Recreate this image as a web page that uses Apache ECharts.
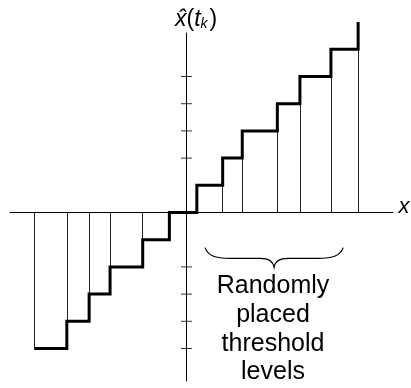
<!DOCTYPE html>
<html>
<head>
<meta charset="utf-8">
<script src="https://cdn.jsdelivr.net/npm/echarts@6/dist/echarts.min.js"></script>
<style>
  html, body { margin: 0; padding: 0; background: #fff; }
  #chart { width: 411px; height: 388px; }
</style>
</head>
<body>
<div id="chart"></div>
<script>
// Quantizer input thresholds t_k (x positions where the output steps)
const thresholds = [-5.60, -4.40, -3.58, -2.81, -1.61, -0.63, 0.38, 1.33, 2.05, 3.34, 4.17, 5.31, 6.31];
// Reconstruction level held between thresholds[i] and thresholds[i + 1]
const levels = [-5, -4, -3, -2, -1, 0, 1, 2, 3, 4, 5, 6];
// Level reached after the last threshold
const lastLevel = 7;
// Tick marks on the vertical axis
const tickLevels = [-5, -4, -3, -2, 2, 3, 4, 5];
// Annotation text
const noteLines = ['Randomly', 'placed', 'threshold', 'levels'];
// Horizontal extent of the brace (data units)
const braceFrom = 0.68;
const braceTo = 5.76;

const X_MIN = -6.489, X_MAX = 7.592;
const Y_MIN = -6.195, Y_MAX = 6.60;

// Thick staircase path
const stairs = [];
for (let i = 0; i < levels.length; i++) {
  stairs.push([thresholds[i], levels[i]]);
  stairs.push([thresholds[i + 1], levels[i]]);
}
stairs.push([thresholds[thresholds.length - 1], lastLevel]);

// Thin verticals from the x axis up/down to the level nearest zero
const risers = [];
thresholds.forEach((t, j) => {
  const left = j > 0 ? levels[j - 1] : null;
  const right = j < levels.length ? levels[j] : lastLevel;
  let inner;
  if (left === null) inner = right;
  else inner = Math.abs(left) < Math.abs(right) ? left : right;
  if (inner !== 0) risers.push({ coords: [[t, 0], [t, inner]] });
});

const chart = echarts.init(document.getElementById('chart'), null, { renderer: 'canvas' });

chart.setOption({
  animation: false,
  backgroundColor: '#fff',
  grid: { left: 10, right: 18, top: 33, bottom: 7 },
  xAxis: {
    type: 'value', min: X_MIN, max: X_MAX,
    axisLine: { onZero: true, lineStyle: { color: '#000', width: 1 } },
    axisTick: { show: false }, axisLabel: { show: false }, splitLine: { show: false }
  },
  yAxis: {
    type: 'value', min: Y_MIN, max: Y_MAX,
    axisLine: { onZero: true, lineStyle: { color: '#000', width: 1 } },
    axisTick: { show: false }, axisLabel: { show: false }, splitLine: { show: false }
  },
  series: [
    {
      type: 'lines',
      coordinateSystem: 'cartesian2d',
      polyline: false,
      silent: true,
      lineStyle: { color: '#222', width: 1, opacity: 1 },
      data: risers,
      z: 2
    },
    {
      type: 'scatter',
      silent: true,
      symbol: 'rect',
      symbolSize: [11, 1],
      itemStyle: { color: '#000' },
      data: tickLevels.map(v => [0, v]),
      z: 3
    },
    {
      type: 'line',
      data: stairs,
      symbol: 'none',
      clip: false,
      silent: true,
      lineStyle: { color: '#000', width: 3, join: 'miter', cap: 'butt' },
      z: 4
    },
    {
      type: 'custom',
      silent: true,
      clip: false,
      data: [[braceFrom, braceTo, -1.29, -2.01]],
      renderItem: function (params, api) {
        const a = api.coord([api.value(0), api.value(2)]);
        const b = api.coord([api.value(1), api.value(2)]);
        const tip = api.coord([(api.value(0) + api.value(1)) / 2, api.value(3)]);
        const x0 = a[0], y0 = a[1], x1 = b[0], xc = tip[0], yt = tip[1];
        const ym = y0 + 0.55 * (yt - y0);
        const d = [
          'M', x0, y0,
          'C', x0 + 3, y0 + 8, x0 + 10, ym, x0 + 25, ym,
          'L', xc - 14, ym,
          'C', xc - 5, ym, xc - 1, ym + 3, xc, yt,
          'C', xc + 1, ym + 3, xc + 5, ym, xc + 14, ym,
          'L', x1 - 25, ym,
          'C', x1 - 10, ym, x1 - 3, y0 + 8, x1, y0
        ].join(' ');
        return {
          type: 'path',
          shape: { pathData: d },
          style: { fill: null, stroke: '#000', lineWidth: 1.2 }
        };
      },
      z: 5
    }
  ],
  graphic: [
    {
      type: 'text',
      x: 175, y: 8,
      style: {
        text: '{v|x̂}{n|(}{v|t}{s|k}{n|)}',
        rich: {
          v: { font: 'italic 23px "Liberation Sans", Arial, sans-serif', fill: '#000' },
          n: { font: '23px "Liberation Sans", Arial, sans-serif', fill: '#000' },
          s: { font: 'italic 14px "Liberation Sans", Arial, sans-serif', fill: '#000', verticalAlign: 'bottom', padding: [9, 2, 0, 0] }
        }
      }
    },
    {
      type: 'text',
      x: 404, y: 207,
      style: {
        text: 'x',
        font: 'italic 22px "Liberation Sans", Arial, sans-serif',
        fill: '#000',
        textAlign: 'center',
        textVerticalAlign: 'middle'
      }
    },
    {
      type: 'text',
      x: 273, y: 272,
      style: {
        text: noteLines.join('\n'),
        font: '25px "Liberation Sans", Arial, sans-serif',
        lineHeight: 28.7,
        fill: '#000',
        textAlign: 'center'
      }
    }
  ]
});
</script>
</body>
</html>
